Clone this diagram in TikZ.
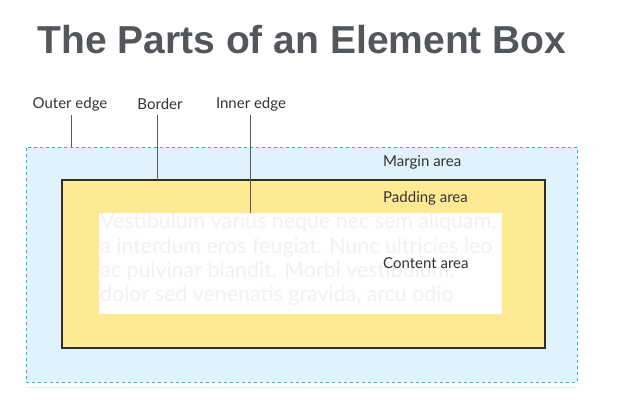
\documentclass[tikz,border=0pt]{standalone}
\usepackage{fontspec}
\setmainfont{Lato}
\newfontfamily\titlefont{Liberation Sans}
\definecolor{titlegray}{HTML}{53575C}
\definecolor{labelgray}{HTML}{333333}
\definecolor{leadgray}{HTML}{5A5A5A}
\definecolor{marginblue}{HTML}{E0F2FC}
\definecolor{dashblue}{HTML}{29B6E8}
\definecolor{padyellow}{HTML}{FFE993}
\definecolor{borderblack}{HTML}{2E2E2E}
\definecolor{loremgray}{HTML}{F1F1F1}
\tikzset{
  lbl/.style={inner sep=0pt, text=labelgray, font=\fontsize{15}{17}\selectfont},
  lead/.style={draw=leadgray, line width=1pt},
}
\begin{document}
\begin{tikzpicture}[x=1pt, y=-1pt]
\useasboundingbox (0,0) rectangle (634,405);
% title
\node[inner sep=0pt, text=titlegray, font=\titlefont\bfseries\fontsize{39}{42}\selectfont] (title) at (302,40){The Parts of an Element Box};
% boxes
\node[rectangle, inner sep=0pt, outer sep=0pt, minimum width=551pt, minimum height=235pt, fill=marginblue, draw=dashblue, dashed, line width=0.8pt] (margin) at (301.5,264.5){};
\node[rectangle, inner sep=0pt, outer sep=0pt, minimum width=483pt, minimum height=168pt, fill=padyellow, draw=borderblack, line width=2pt] (border) at (303.5,264){};
\node[rectangle, inner sep=0pt, outer sep=0pt, minimum width=403pt, minimum height=101pt, fill=white] (content) at (300.5,263.5){};
\draw[draw=marginblue, line width=0.8pt] (margin.south west) ++(0,5.5) coordinate (fw) -- (fw -| margin.east);
% filler text
\node[anchor=north west, inner sep=0pt, align=left, text=loremgray, font=\fontsize{21.4}{24.3}\selectfont] (lorem) at (100,213){Vestibulum varius neque nec sem aliquam,\\a interdum eros feugiat. Nunc ultricies leo\\ac pulvinar blandit. Morbi vestibulum,\\dolor sed venenatis gravida, arcu odio};
% area labels
\node[lbl, anchor=west] (marginlbl) at (383,162){Margin area};
\node[lbl, anchor=west] (paddinglbl) at (383,198){Padding area};
\node[lbl, anchor=west] (contentlbl) at (383,263){Content area};
% edge labels
\node[lbl] (outerlbl) at (70,104){Outer edge};
\node[lbl] (borderlbl) at (160,104){Border};
\node[lbl] (innerlbl) at (251,104){Inner edge};
\coordinate (outerlead) at (71,115);
\coordinate (borderlead) at (157,115);
\coordinate (innerlead) at (250,115);
\draw[lead] (outerlead) -- (outerlead |- margin.north);
\draw[lead] (borderlead) -- (borderlead |- border.north);
\draw[lead] (innerlead) -- (innerlead |- content.north);
\end{tikzpicture}
\end{document}
